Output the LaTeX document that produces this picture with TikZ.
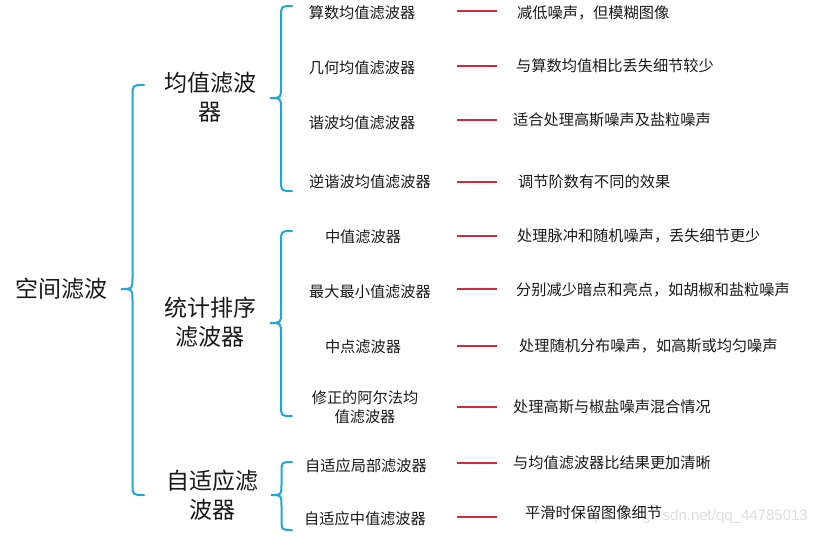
\documentclass[tikz,border=0pt]{standalone}
\usepackage{fontspec}
\newfontfamily\cjk{Noto Sans CJK SC}
\newfontfamily\wmfont{Liberation Sans}
\definecolor{braceblue}{RGB}{32,166,218}
\definecolor{linered}{RGB}{210,40,60}
\newcommand\curlybrace[5]{% #1 tip x, #2 ytop, #3 ytip, #4 ybot, #5 width
  \draw[bracestyle] ({#1+#5},#2) .. controls ({#1+#5/2},#2) .. ({#1+#5/2},{#2+11})
    -- ({#1+#5/2},{#3-11}) .. controls ({#1+#5/2},#3) .. (#1,#3)
    .. controls ({#1+#5/2},#3) .. ({#1+#5/2},{#3+11})
    -- ({#1+#5/2},{#4-11}) .. controls ({#1+#5/2},#4) .. ({#1+#5},#4);}
\begin{document}
\begin{tikzpicture}[x=1pt,y=-1pt,
  bracestyle/.style={draw=braceblue,line width=2pt,line cap=round},
  redline/.style={draw=linered,line width=1.2pt},
  rootlabel/.style={font=\cjk\fontsize{23}{28}\selectfont,inner sep=0pt,text=black!90},
  midlabel/.style={font=\cjk\fontsize{23}{29}\selectfont,inner sep=0pt,align=center,text=black!90},
  leaflabel/.style={font=\cjk\fontsize{15.2}{19}\selectfont,inner sep=0pt,align=center,text=black!90},
  desclabel/.style={font=\cjk\fontsize{15.2}{19}\selectfont,inner sep=0pt,anchor=west,text=black!90}]
\useasboundingbox (0,0) rectangle (819,536);
\fill[white] (0,0) rectangle (819,536);

% watermark
\node[font=\wmfont\fontsize{15}{18}\selectfont,text=black!13,anchor=east,inner sep=0pt] (wm) at (808,517) {https://blog.csdn.net/qq\_44785013};

% root
\node[rootlabel] (root) at (61,289) {空间滤波};
\curlybrace{121}{85}{289}{495}{23}

% middle level
\node[midlabel] (mean) at (210,97) {均值滤波\\器};
\node[midlabel] (order) at (210,322) {统计排序\\滤波器};
\node[midlabel] (adapt) at (212,495) {自适应滤\\波器};

\curlybrace{270}{6}{98}{191}{22}
\curlybrace{270}{231}{323}{416}{22}
\curlybrace{271}{462}{495}{530}{21}

% leaves
\node[leaflabel] (l1) at (362,13) {算数均值滤波器};
\node[leaflabel] (l2) at (362,68) {几何均值滤波器};
\node[leaflabel] (l3) at (362,123) {谐波均值滤波器};
\node[leaflabel] (l4) at (370,182) {逆谐波均值滤波器};
\node[leaflabel] (l5) at (363,237) {中值滤波器};
\node[leaflabel] (l6) at (370,292) {最大最小值滤波器};
\node[leaflabel] (l7) at (363,347) {中点滤波器};
\node[leaflabel] (l8) at (365,407.5) {修正的阿尔法均\\值滤波器};
\node[leaflabel] (l9) at (366,466) {自适应局部滤波器};
\node[leaflabel] (l10) at (365,519) {自适应中值滤波器};

% descriptions
\node[desclabel] (d1) at (517,13) {减低噪声，但模糊图像};
\node[desclabel] (d2) at (516,66) {与算数均值相比丢失细节较少};
\node[desclabel] (d3) at (513,120) {适合处理高斯噪声及盐粒噪声};
\node[desclabel] (d4) at (518,182) {调节阶数有不同的效果};
\node[desclabel] (d5) at (517,236) {处理脉冲和随机噪声，丢失细节更少};
\node[desclabel] (d6) at (516,290) {分别减少暗点和亮点，如胡椒和盐粒噪声};
\node[desclabel] (d7) at (519,346) {处理随机分布噪声，如高斯或均匀噪声};
\node[desclabel] (d8) at (513,407) {处理高斯与椒盐噪声混合情况};
\node[desclabel] (d9) at (513,463) {与均值滤波器比结果更加清晰};
\node[desclabel,fill=white] (d10) at (525,513) {平滑时保留图像细节};

% red connectors
\foreach \yy in {11,66,120,182,236,289,346,407,463,517}
  \draw[redline] (457,\yy) -- (497,\yy);
\end{tikzpicture}
\end{document}
